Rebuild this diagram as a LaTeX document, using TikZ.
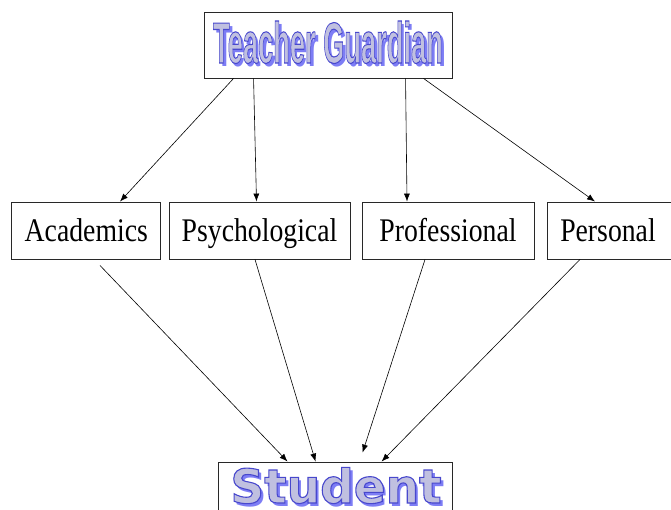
\documentclass[tikz,border=0pt]{standalone}
\usepackage{fontspec}
\usetikzlibrary{arrows.meta}
\setmainfont{Liberation Serif}
\newfontfamily\tgfont{Liberation Sans}
\newfontfamily\stfont{DejaVu Sans}
\definecolor{artfill}{RGB}{192,192,224}
\definecolor{artline}{RGB}{72,72,205}
\definecolor{artshadow}{RGB}{125,125,245}
\definecolor{boxline}{RGB}{40,40,40}
\tikzset{
  box/.style={draw=boxline, line width=0.9pt, rectangle, inner sep=0pt, fill=white},
  lbl/.style={font=\fontsize{33}{33}\selectfont, inner sep=0pt, anchor=base},
  art/.style={inner sep=0pt, anchor=base},
  conn/.style={draw=black, line width=0.6pt, -{Latex[length=8pt,width=6pt]}},
}
% WordArt-like text: shadow, then light fill with thin blue outline (fill+stroke render mode)
\newcommand{\wordart}[2]{%
  \rlap{\kern#2\raisebox{-#2}{\textcolor{artshadow}{#1}}}%
  {\color{artfill}\special{pdf:literal direct 0.282 0.282 0.804 RG 1.1 w 2 Tr}#1\special{pdf:literal direct 0 Tr}}}
\newcommand{\tgword}{\scalebox{0.47}[1]{\fontsize{58}{58}\selectfont\tgfont\bfseries Teacher Guardian}}
\newcommand{\stword}{{\fontsize{47}{47}\selectfont\stfont\bfseries Student}}
\begin{document}
\begin{tikzpicture}[x=1pt,y=-1pt]
\useasboundingbox (0,0) rectangle (671,509);
\begin{scope}
\clip (0,0) rectangle (671,509);
% top box
\node[box, minimum width=248pt, minimum height=66pt] (tg) at (328,45) {};
\node[art] (tgt) at (328,63) {\wordart{\tgword}{3pt}};
% middle boxes
\node[box, minimum width=149pt, minimum height=57pt] (ac) at (86.3,230.5) {};
\node[box, minimum width=181pt, minimum height=57pt] (ps) at (259.5,230.5) {};
\node[box, minimum width=172pt, minimum height=57pt] (pr) at (448,230.5) {};
\node[box, minimum width=133pt, minimum height=57pt] (pe) at (613.5,230.5) {};
\node[lbl] (act) at (86.3,241.7) {\scalebox{0.84}[1]{Academics}};
\node[lbl] (pst) at (259.5,241.7) {\scalebox{0.84}[1]{Psychological}};
\node[lbl] (prt) at (448,241.7) {\scalebox{0.84}[1]{Professional}};
\node[lbl] (pet) at (608,241.7) {\scalebox{0.84}[1]{Personal}};
% student box
\node[box, minimum width=234pt, minimum height=60pt] (st) at (335,492) {};
\node[art] (stt) at (336,503) {\wordart{\stword}{3pt}};
% connectors
\draw[conn] ([xshift=30pt]tg.south west) -- ([xshift=33.7pt]ac.north);
\draw[conn] ([xshift=50pt]tg.south west) -- ([xshift=-3pt]ps.north);
\draw[conn] ([xshift=202pt]tg.south west) -- ([xshift=-41pt]pr.north);
\draw[conn] ([xshift=220pt]tg.south west) -- ([xshift=-18.5pt]pe.north);
\draw[conn] ([xshift=13.7pt,yshift=-6pt]ac.south) -- ([xshift=70pt]st.north west);
\draw[conn] ([xshift=-4.5pt]ps.south) -- ([xshift=98pt]st.north west);
\draw[conn] ([xshift=-23pt]pr.south) -- ([xshift=145pt,yshift=9pt]st.north west);
\draw[conn] ([xshift=-33.5pt]pe.south) -- ([xshift=164pt]st.north west);
\end{scope}
\end{tikzpicture}
\end{document}
